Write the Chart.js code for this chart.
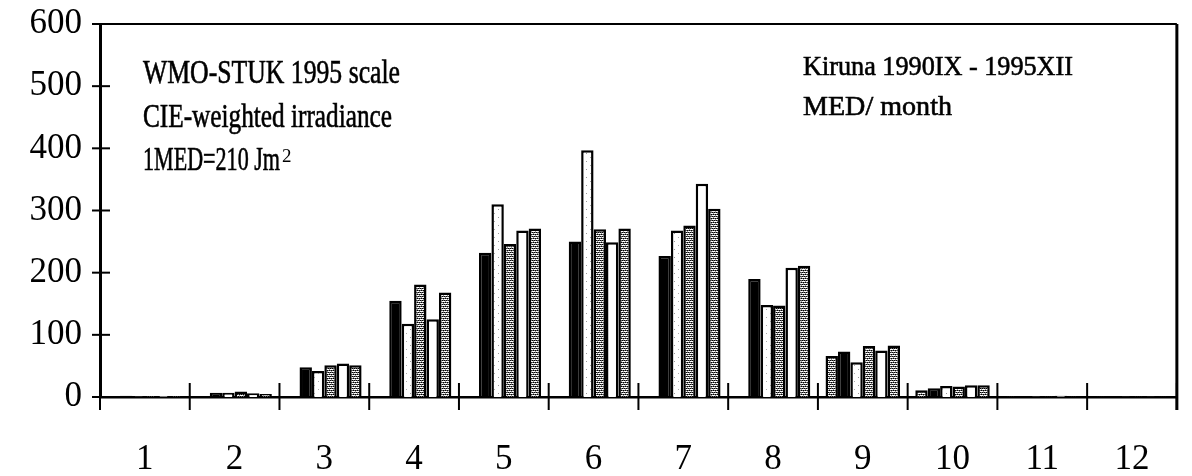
<!DOCTYPE html>
<html lang="en">
<head>
    <meta charset="UTF-8">
    <title>Kiruna MED / month</title>
    <script src="https://cdn.jsdelivr.net/npm/chart.js"></script>
    <style>
        body {
            margin: 0;
            padding: 0;
            background-color: #fff;
        }

        .chart-box {
            width: 1192px;
            height: 476px;
        }
    </style>
</head>
<body>
    <div class="chart-box">
        <canvas id="uvChart" width="1192" height="476"></canvas>
    </div>

    <script>
        // Months and monthly CIE doses (MED / month), one array per year
        const months = ['1', '2', '3', '4', '5', '6', '7', '8', '9', '10', '11', '12'];
        const y1990 = [null, null, null, null, null, null, null, null, 66, 11, 1, 0.5];
        const y1991 = [2, 7, 48, 155, 232, 250, 227, 190, 73, 14, 1, 0.5];
        const y1992 = [1, 7, 42, 118, 310, 397, 268, 148, 56, 17.5, 1, 0.5];
        const y1993 = [1.5, 9, 51, 181, 246, 270, 276, 147, 82, 17, 1, 1];
        const y1994 = [1.5, 6, 54, 125, 268, 249, 343, 208, 75, 19, 2, 0.5];
        const y1995 = [1.5, 5, 51, 168, 271, 271, 303, 211, 83, 19, 1, 0.5];
        const yTicks = [0, 100, 200, 300, 400, 500, 600];

        // Fill patterns like the scanned halftones
        function makePattern(size, dots, bg) {
            const c = document.createElement('canvas');
            c.width = size;
            c.height = size;
            const g = c.getContext('2d');
            g.fillStyle = bg;
            g.fillRect(0, 0, size, size);
            dots.forEach(d => {
                g.fillStyle = d[2];
                g.fillRect(d[0], d[1], 1, 1);
            });
            return g.createPattern(c, 'repeat');
        }

        const ctx = document.getElementById('uvChart').getContext('2d');
        const greyDots = makePattern(4, [
            [0, 0, '#000'], [2, 0, '#000'], [1, 2, '#000'], [3, 2, '#000'],
            [1, 0, '#666'], [3, 0, '#666'], [0, 2, '#666'], [2, 2, '#666'],
            [1, 1, '#999'], [3, 3, '#999']
        ], '#fff');
        const lightDots = makePattern(8, [[2, 1, '#999'], [6, 5, '#aaa']], '#fff');

        // Texts inside the plot, squeezed to the width of the original lettering
        const notes = [
            { text: 'WMO-STUK 1995 scale', x: 143, y: 83, size: 33, w: 257 },
            { text: 'CIE-weighted irradiance', x: 143, y: 127, size: 33, w: 249 },
            { text: '1MED=210 Jm', x: 143, y: 170, size: 33, w: 137 },
            { text: 'Kiruna 1990IX - 1995XII', x: 803, y: 75, size: 27, w: 270 },
            { text: 'MED/ month', x: 803, y: 115, size: 27, w: 149 }
        ];

        const framePlugin = {
            id: 'frame',
            afterDraw(chart) {
                const c = chart.ctx;
                const area = chart.chartArea;
                const xs = chart.scales.x;
                const ys = chart.scales.y;
                c.save();
                c.strokeStyle = '#000';

                // top and right edges of the box
                c.lineWidth = 2;
                c.beginPath();
                c.moveTo(area.left, area.top);
                c.lineTo(area.right, area.top);
                c.stroke();
                c.lineWidth = 3;
                c.beginPath();
                c.moveTo(area.right, area.top);
                c.lineTo(area.right, area.bottom + 13);
                c.stroke();

                // y ticks crossing the axis
                c.lineWidth = 2;
                ys.ticks.forEach(t => {
                    const py = ys.getPixelForValue(t.value);
                    c.beginPath();
                    c.moveTo(area.left - 8, py);
                    c.lineTo(area.left + 10, py);
                    c.stroke();
                });

                // x ticks at month boundaries
                for (let i = 0; i <= months.length; i++) {
                    const px = xs.left + (xs.right - xs.left) * i / months.length;
                    c.beginPath();
                    c.moveTo(px, area.bottom - 14);
                    c.lineTo(px, area.bottom + 13);
                    c.stroke();
                }

                // annotation texts (light stroke to mimic the heavy scan)
                c.fillStyle = '#000';
                c.lineWidth = 0.6;
                c.textBaseline = 'alphabetic';
                notes.forEach(n => {
                    c.font = n.size + 'px "Liberation Serif"';
                    const m = c.measureText(n.text).width;
                    c.save();
                    c.translate(n.x, n.y);
                    c.scale(n.w / m, 1);
                    c.fillText(n.text, 0, 0);
                    c.strokeText(n.text, 0, 0);
                    c.restore();
                });
                c.font = '19px "Liberation Serif"';
                c.fillText('2', 282, 162);
                c.restore();
            }
        };

        function bars(label, data, fill) {
            return {
                label: label,
                data: data,
                backgroundColor: fill,
                borderColor: '#000',
                borderWidth: 2.5,
                categoryPercentage: 0.83,
                barPercentage: 1.0
            };
        }

        const uvChart = new Chart(ctx, {
            type: 'bar',
            data: {
                labels: months,
                datasets: [
                    bars('1990', y1990, greyDots),
                    bars('1991', y1991, '#000'),
                    bars('1992', y1992, lightDots),
                    bars('1993', y1993, greyDots),
                    bars('1994', y1994, '#fff'),
                    bars('1995', y1995, greyDots)
                ]
            },
            options: {
                responsive: false,
                animation: false,
                layout: { padding: { top: 24, right: 12, left: 0, bottom: 0 } },
                plugins: {
                    legend: { display: false },
                    tooltip: { enabled: false }
                },
                scales: {
                    x: {
                        grid: { display: false, drawTicks: false },
                        border: { display: true, color: '#000', width: 2.5 },
                        afterFit(scale) { scale.height = 79; },
                        ticks: {
                            color: '#000',
                            padding: 42,
                            font: { family: 'Liberation Serif', size: 35 }
                        }
                    },
                    y: {
                        min: 0,
                        max: 600,
                        grid: { display: false, drawTicks: false },
                        border: { display: true, color: '#000', width: 3 },
                        afterFit(scale) {
                            scale.width = 100;
                            scale.paddingTop = 0;
                            scale.paddingBottom = 0;
                        },
                        ticks: {
                            stepSize: 50,
                            color: '#000',
                            padding: 18,
                            font: { family: 'Liberation Serif', size: 35 },
                            callback: v => yTicks.includes(v) ? String(v) : ''
                        }
                    }
                }
            },
            plugins: [framePlugin]
        });
    </script>
</body>
</html>
